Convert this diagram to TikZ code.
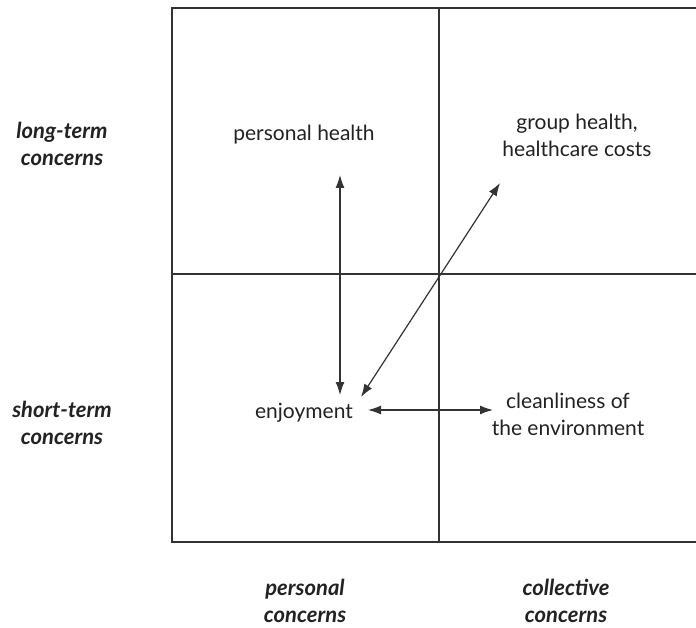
\documentclass[tikz,border=0pt]{standalone}
\usepackage{fontspec}
\setmainfont{Lato}
\usetikzlibrary{arrows.meta}
\definecolor{ink}{HTML}{333333}
\definecolor{txt}{HTML}{222222}
\tikzset{
  frame/.style={draw=ink, line width=1.8pt},
  conn/.style={draw=ink, line width=1.2pt, {Latex[length=13pt,width=9pt]}-{Latex[length=13pt,width=9pt]}},
  lbl/.style={text=txt, font=\fontsize{21}{27}\selectfont, align=center, inner sep=0pt},
  axis/.style={text=txt, font=\fontsize{22}{27}\selectfont\bfseries\itshape, align=center, inner sep=0pt}
}
\begin{document}
\begin{tikzpicture}[x=1pt,y=-1pt]
\useasboundingbox (0,0) rectangle (696,628);
\fill[white] (0,0) rectangle (696,628);
% frame
\draw[frame] (696,8) -- (172,8) -- (172,542) -- (696,542);
\draw[frame] (439,8) -- (439,542);
\draw[frame] (172,274) -- (696,274);
% labels
\node[lbl] (ph) at (304,135) {personal health};
\node[lbl] (gh) at (577,135) {group health,\\healthcare costs};
\node[lbl] (en) at (304,413) {enjoyment};
\node[lbl] (cl) at (568,414) {cleanliness of\\the environment};
\node[axis] (lt) at (62,144) {long-term\\concerns};
\node[axis] (st) at (62,423) {short-term\\concerns};
\node[axis] (pc) at (305,601) {personal\\concerns};
\node[axis] (cc) at (566,601) {collective\\concerns};
% connector anchors
\coordinate (v1) at (340,175);
\coordinate (v2) at (340,395);
\coordinate (d1) at (500,183);
\coordinate (d2) at (361,397);
\coordinate (h1) at (368,410);
\coordinate (h2) at (493,410);
\draw[conn] (v1) -- (v2);
\draw[conn] (d1) -- (d2);
\draw[conn] (h1) -- (h2);
\end{tikzpicture}
\end{document}
